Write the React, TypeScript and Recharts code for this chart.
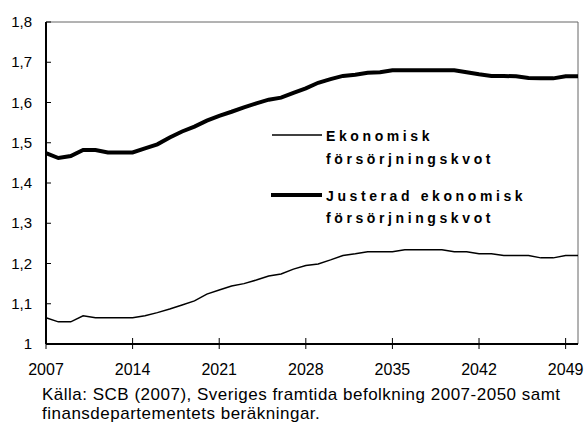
import React from 'react'
import { LineChart, Line, XAxis, YAxis, ReferenceLine, Legend } from 'recharts'

const years = [
	2007, 2008, 2009, 2010, 2011, 2012, 2013, 2014, 2015, 2016, 2017,
	2018, 2019, 2020, 2021, 2022, 2023, 2024, 2025, 2026, 2027, 2028,
	2029, 2030, 2031, 2032, 2033, 2034, 2035, 2036, 2037, 2038, 2039,
	2040, 2041, 2042, 2043, 2044, 2045, 2046, 2047, 2048, 2049, 2050,
]

// Ekonomisk försörjningskvot (tunn linje)
const ekonomisk = [
	1.065, 1.055, 1.055, 1.07, 1.065, 1.065, 1.065, 1.065, 1.07, 1.078, 1.087,
	1.097, 1.107, 1.124, 1.134, 1.144, 1.15, 1.159, 1.169, 1.174, 1.186, 1.195,
	1.199, 1.209, 1.22, 1.224, 1.229, 1.229, 1.229, 1.234, 1.234, 1.234, 1.234,
	1.229, 1.229, 1.224, 1.224, 1.22, 1.22, 1.22, 1.214, 1.214, 1.22, 1.22,
]

// Justerad ekonomisk försörjningskvot (tjock linje)
const justerad = [
	1.474, 1.462, 1.467, 1.482, 1.482, 1.476, 1.476, 1.476, 1.486, 1.496, 1.513,
	1.528, 1.54, 1.555, 1.567, 1.577, 1.588, 1.598, 1.607, 1.612, 1.624, 1.635,
	1.649, 1.658, 1.666, 1.669, 1.674, 1.675, 1.68, 1.68, 1.68, 1.68, 1.68,
	1.68, 1.675, 1.67, 1.666, 1.666, 1.665, 1.661, 1.66, 1.66, 1.665, 1.665,
]

const xTicks = [2007, 2014, 2021, 2028, 2035, 2042, 2049]
const yTicks = [1, 1.1, 1.2, 1.3, 1.4, 1.5, 1.6, 1.7, 1.8]
const yTickLabels = ['1', '1,1', '1,2', '1,3', '1,4', '1,5', '1,6', '1,7', '1,8']

const data = years.map((year, i) => ({
	year,
	ekonomisk: ekonomisk[i],
	justerad: justerad[i],
}))

const font = '"Liberation Sans", Arial, sans-serif'

function XTick({ x, y, payload }: any) {
	return (
		<g>
			<line x1={x} x2={x} y1={y - 6} y2={y + 5} stroke="#000" strokeWidth={1} />
			<text x={x} y={y + 31} textAnchor="middle" fontSize={16} fontFamily={font} fill="#000">
				{payload.value}
			</text>
		</g>
	)
}

function YTick({ x, y, payload }: any) {
	const idx = yTicks.findIndex((t) => Math.abs(t - payload.value) < 1e-6)
	return (
		<g>
			<line x1={x} x2={x + 5} y1={y} y2={y} stroke="#000" strokeWidth={1} />
			<text x={x - 14} y={y + 5} textAnchor="end" fontSize={15} fontFamily={font} fill="#000">
				{yTickLabels[idx]}
			</text>
		</g>
	)
}

function LegendBox() {
	const textStyle = {
		fontSize: 14,
		fontWeight: 700,
		fontFamily: font,
		letterSpacing: 3.6,
	}
	return (
		<svg width={300} height={115}>
			<line x1={12} x2={62} y1={15} y2={15} stroke="#000" strokeWidth={1.5} />
			<text x={66} y={21} style={textStyle}>Ekonomisk</text>
			<text x={66} y={44} style={textStyle}>försörjningskvot</text>
			<line x1={11} x2={62} y1={75} y2={75} stroke="#000" strokeWidth={4} />
			<text x={66} y={81} style={textStyle}>Justerad ekonomisk</text>
			<text x={66} y={103} style={textStyle}>försörjningskvot</text>
		</svg>
	)
}

export default function App() {
	return (
		<div style={{ position: 'absolute', left: 0, top: 0, width: 587, height: 427, background: '#fff' }}>
			<LineChart
				width={587}
				height={427}
				data={data}
				margin={{ top: 22, right: 9, left: 0, bottom: 53 }}
			>
				<XAxis
					dataKey="year"
					type="number"
					domain={[2007, 2050]}
					ticks={xTicks}
					interval={0}
					height={30}
					tickSize={0}
					tickMargin={0}
					tick={XTick}
					axisLine={{ stroke: '#000', strokeWidth: 2 }}
				/>
				<YAxis
					type="number"
					domain={[1, 1.8]}
					ticks={yTicks}
					interval={0}
					width={46}
					tickSize={0}
					tickMargin={0}
					tick={YTick}
					axisLine={{ stroke: '#000', strokeWidth: 2 }}
				/>
				<ReferenceLine y={1.8} stroke="#666" strokeWidth={1} />
				<ReferenceLine x={2050} stroke="#666" strokeWidth={1} />
				<Legend
					layout="vertical"
					align="center"
					verticalAlign="middle"
					content={<LegendBox />}
					wrapperStyle={{ left: 260, top: 120, width: 300, height: 115 }}
				/>
				<Line
					type="linear"
					dataKey="ekonomisk"
					stroke="#000"
					strokeWidth={1.5}
					dot={false}
					isAnimationActive={false}
				/>
				<Line
					type="linear"
					dataKey="justerad"
					stroke="#000"
					strokeWidth={4}
					dot={false}
					isAnimationActive={false}
				/>
			</LineChart>
			<div
				style={{
					position: 'absolute',
					left: 42,
					top: 385,
					fontFamily: font,
					fontSize: 17,
					letterSpacing: 0.5,
					lineHeight: '19px',
					color: '#000',
					whiteSpace: 'nowrap',
				}}
			>
				Källa: SCB (2007), Sveriges framtida befolkning 2007-2050 samt
				<br />
				finansdepartementets beräkningar.
			</div>
		</div>
	)
}
